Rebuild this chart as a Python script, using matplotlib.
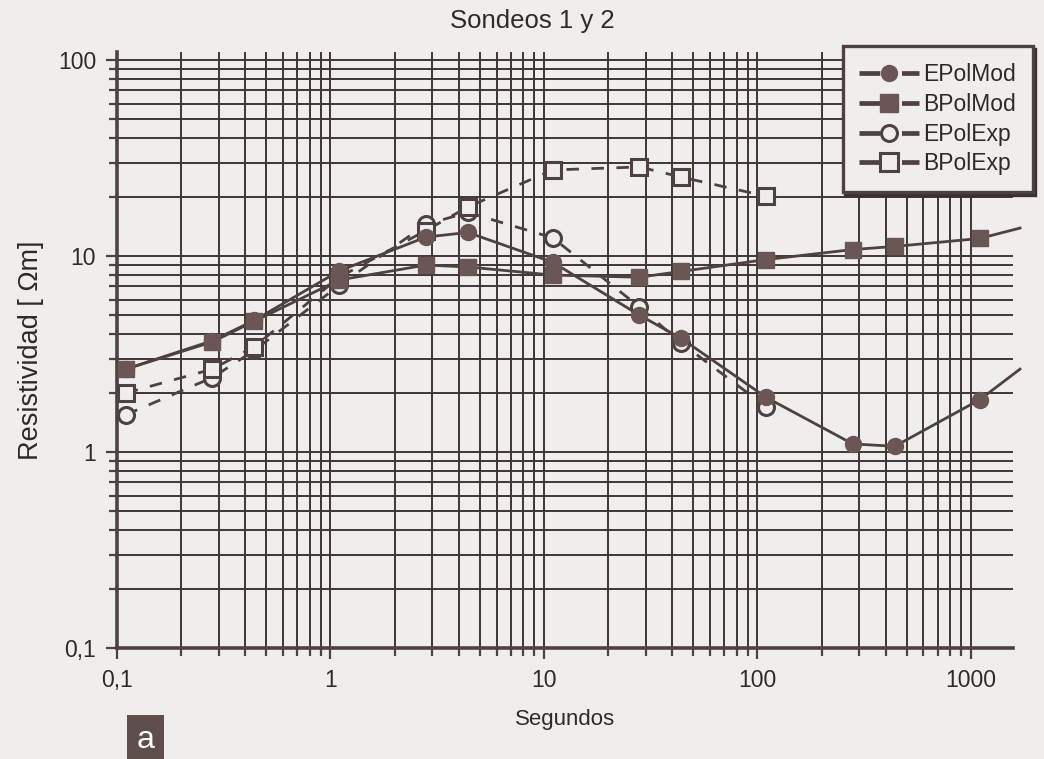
import matplotlib
matplotlib.use("Agg")
import matplotlib.pyplot as plt
from matplotlib.lines import Line2D
from matplotlib.ticker import FixedLocator, NullFormatter, LogLocator

plt.rcParams['font.family'] = ['Liberation Sans', 'DejaVu Sans']

# ---- data ----
periods = [0.11, 0.28, 0.44, 1.1, 2.8, 4.4, 11, 28, 44, 110, 280, 440, 1100]
epol_mod = [2.65, 3.7, 4.7, 8.4, 12.5, 13.2, 9.3, 5.0, 3.8, 1.9, 1.1, 1.07, 1.85]
bpol_mod = [2.65, 3.65, 4.65, 7.55, 9.0, 8.8, 8.0, 7.8, 8.35, 9.6, 10.8, 11.2, 12.3]
exp_periods = [0.11, 0.28, 0.44, 1.1, 2.8, 4.4, 11, 28, 44, 110]
epol_exp = [1.55, 2.4, 3.3, 7.1, 14.5, 16.7, 12.4, 5.5, 3.6, 1.7]
bpol_exp = [2.0, 2.65, 3.45, 7.8, 13.5, 17.8, 27.5, 28.5, 25.3, 20.2]
# curves of the models continue past the last period to the edge of the grid
tail_period = 1700
epol_mod_tail = 2.65
bpol_mod_tail = 13.9

x_ticks = [0.1, 1, 10, 100, 1000]
x_labels = ["0,1", "1", "10", "100", "1000"]
y_ticks = [0.1, 1, 10, 100]
y_labels = ["0,1", "1", "10", "100"]
series_names = ["EPolMod", "BPolMod", "EPolExp", "BPolExp"]

# ---- style ----
BG = '#efeeed'
INK = '#2f2a2a'
LINE = '#4e4241'
FILL = '#6a5755'
GRID = '#3e3636'

fig = plt.figure(figsize=(10.44, 7.59), dpi=100, facecolor=BG)
ax = fig.add_axes([0.112, 0.1462, 0.858, 0.7853])
ax.set_facecolor(BG)
ax.set_xscale('log')
ax.set_yscale('log')
ax.set_xlim(0.1, 1570)
ax.set_ylim(0.1, 110)

# grid
ax.xaxis.set_major_locator(FixedLocator(x_ticks))
ax.yaxis.set_major_locator(FixedLocator(y_ticks))
ax.xaxis.set_minor_locator(LogLocator(base=10, subs=range(2, 10), numticks=20))
ax.yaxis.set_minor_locator(LogLocator(base=10, subs=range(2, 10), numticks=20))
ax.xaxis.set_minor_formatter(NullFormatter())
ax.yaxis.set_minor_formatter(NullFormatter())
ax.set_xticklabels(x_labels)
ax.set_yticklabels(y_labels)
ax.grid(True, which='both', color=GRID, linewidth=1.4)
ax.set_axisbelow(True)

for s in ['top', 'right']:
    ax.spines[s].set_visible(False)
for s in ['left', 'bottom']:
    ax.spines[s].set_color(LINE)
    ax.spines[s].set_linewidth(2.6)
ax.tick_params(which='both', direction='out', color=LINE, width=1.6,
               labelsize=16.5, labelcolor=INK)
ax.tick_params(which='major', length=8, pad=7)
ax.tick_params(which='minor', length=6)

ms = 11.5
# model curves (solid)
ax.plot(periods + [tail_period], epol_mod + [epol_mod_tail], '-', color=LINE,
        lw=2.0, zorder=3, clip_on=False)
ax.plot(periods + [tail_period], bpol_mod + [bpol_mod_tail], '-', color=LINE,
        lw=2.0, zorder=3, clip_on=False)
# experimental curves (dashed)
dash = (0, (4.5, 4.5))
ax.plot(exp_periods, epol_exp, linestyle=dash, color=LINE, lw=2.0, zorder=3)
ax.plot(exp_periods, bpol_exp, linestyle=dash, color=LINE, lw=2.0, zorder=3)
# markers
ax.plot(exp_periods, epol_exp, 'o', ms=ms, mfc=BG, mec=LINE, mew=2.2, ls='none', zorder=4)
ax.plot(exp_periods, bpol_exp, 's', ms=ms, mfc=BG, mec=LINE, mew=2.2, ls='none', zorder=4)
ax.plot(periods, epol_mod, 'o', ms=ms, mfc=FILL, mec=FILL, ls='none', zorder=5)
ax.plot(periods, bpol_mod, 's', ms=ms, mfc=FILL, mec=FILL, ls='none', zorder=5)

# labels
ax.set_xlabel("Segundos", fontsize=16, color=INK, labelpad=12)
ax.set_ylabel("Resistividad [ \u03a9m]", fontsize=19.5, color=INK, labelpad=10)
fig.text(0.51, 0.972, "Sondeos 1 y 2", ha='center', va='center', fontsize=18.5, color=INK)

# legend
leg_dash = (0, (4.4, 4.6))
handles = [
    Line2D([], [], color=LINE, lw=3.4, linestyle=leg_dash, marker='o', ms=ms, mfc=FILL, mec=FILL),
    Line2D([], [], color=LINE, lw=3.4, linestyle=leg_dash, marker='s', ms=ms + 1, mfc=FILL, mec=FILL),
    Line2D([], [], color=LINE, lw=3.4, linestyle=leg_dash, marker='o', ms=ms, mfc=BG, mec=LINE, mew=2.2),
    Line2D([], [], color=LINE, lw=3.4, linestyle=leg_dash, marker='s', ms=ms + 1, mfc=BG, mec=LINE, mew=2.2),
]
leg = fig.legend(handles, series_names, loc='upper right', bbox_to_anchor=(1.0, 0.954),
                 bbox_transform=fig.transFigure, fontsize=16.5, frameon=True,
                 fancybox=False, facecolor=BG, edgecolor=LINE, framealpha=1,
                 handlelength=2.6, handletextpad=0.2, labelspacing=0.3,
                 borderpad=0.72, shadow={'color': '#3a3030', 'alpha': 1})
leg.get_frame().set_linewidth(2.4)
for t in leg.get_texts():
    t.set_color(INK)

# panel letter
fig.text(0.139, 0.025, "a", ha='center', va='center', fontsize=23, color='white',
         bbox=dict(boxstyle='square,pad=0.3', facecolor='#5e4e4c', edgecolor='none'))

fig.savefig("out.png", dpi=100, facecolor=BG)
